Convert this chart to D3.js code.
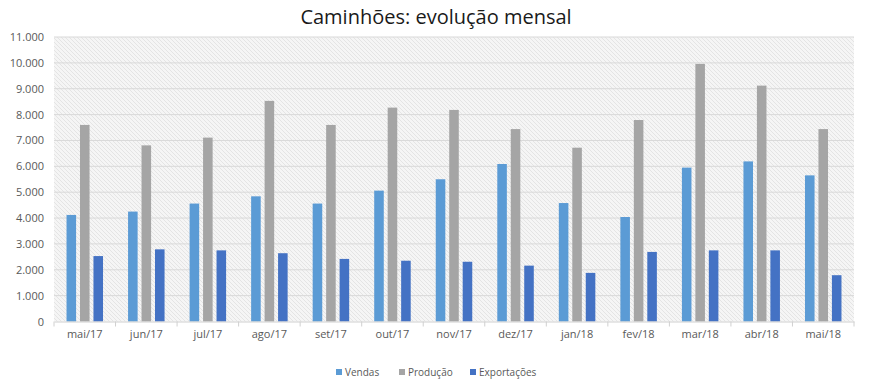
<!DOCTYPE html>
<html>
<head>
<meta charset="utf-8">
<script src="https://cdn.jsdelivr.net/npm/d3@7"></script>
<style>
  body { margin: 0; background: #fff; }
  text { font-family: "Open Sans", "Noto Sans", sans-serif; }
</style>
</head>
<body>
<div id="chart"></div>
<script>
// Caminhões: evolução mensal - grouped bars

var categories = ["mai/17", "jun/17", "jul/17", "ago/17", "set/17", "out/17", "nov/17",
                  "dez/17", "jan/18", "fev/18", "mar/18", "abr/18", "mai/18"];
var vendas = [4120, 4250, 4560, 4840, 4560, 5060, 5500, 6090, 4580, 4040, 5950, 6190, 5650];
var producao = [7600, 6810, 7110, 8530, 7600, 8270, 8180, 7440, 6720, 7790, 9960, 9120, 7440];
var exportacoes = [2530, 2790, 2750, 2640, 2420, 2350, 2310, 2160, 1880, 2690, 2750, 2750, 1790];
var seriesNames = ["Vendas", "Produção", "Exportações"];
var seriesColors = ["#5b9bd5", "#a5a5a5", "#4472c4"];
var yTicks = [0, 1000, 2000, 3000, 4000, 5000, 6000, 7000, 8000, 9000, 10000, 11000];

var param = {
    width: 870,
    height: 380,
    left: 54,
    right: 854,
    top: 37,
    bottom: 321.5
};

var series = [vendas, producao, exportacoes];

var svg = d3.select("#chart").append("svg")
    .attr("width", param.width)
    .attr("height", param.height);

// hatch pattern for plot background
var pat = svg.append("defs").append("pattern")
    .attr("id", "hatch")
    .attr("patternUnits", "userSpaceOnUse")
    .attr("width", 4)
    .attr("height", 4);
pat.append("rect").attr("width", 4).attr("height", 4).attr("fill", "#f5f5f5");
pat.append("path")
    .attr("d", "M-1,-1 L5,5 M-1,3 L1,5 M3,-1 L5,1")
    .attr("stroke", "#e0e0e0")
    .attr("stroke-width", 0.8);

svg.append("rect")
    .attr("x", param.left).attr("y", param.top)
    .attr("width", param.right - param.left)
    .attr("height", param.bottom - param.top)
    .attr("fill", "url(#hatch)");

var x0 = d3.scaleBand().domain(categories).range([param.left, param.right]).padding(0);
var x1 = d3.scaleBand().domain(d3.range(3)).range([0, 36.5]).paddingInner(0.29).paddingOuter(0);
var y = d3.scaleLinear().domain([0, 11000]).range([param.bottom, param.top]);

// grid
svg.append("g").selectAll("line")
    .data(yTicks.slice(1))
    .join("line")
    .attr("x1", param.left).attr("x2", param.right)
    .attr("y1", function(d){ return y(d); })
    .attr("y2", function(d){ return y(d); })
    .attr("stroke", "#d9d9d9").attr("stroke-width", 1);

// y axis labels
var yAxis = d3.axisLeft(y).tickValues(yTicks).tickSize(0).tickPadding(10)
    .tickFormat(function(d){ return d3.format(",")(d).replace(/,/g, "."); });
var gy = svg.append("g").attr("transform", "translate(" + param.left + ",0)").call(yAxis);
gy.select(".domain").remove();
gy.selectAll("text").attr("fill", "#595959").style("font-size", "11px");

// bars
var groups = svg.append("g").selectAll("g")
    .data(categories)
    .join("g")
    .attr("transform", function(d){
        return "translate(" + (x0(d) + (x0.bandwidth() - 36.5) / 2) + ",0)";
    });

groups.selectAll("rect")
    .data(function(d, i){ return series.map(function(s, k){ return {k: k, v: s[i]}; }); })
    .join("rect")
    .attr("x", function(d){ return x1(d.k); })
    .attr("width", x1.bandwidth())
    .attr("y", function(d){ return y(d.v); })
    .attr("height", function(d){ return y(0) - y(d.v); })
    .attr("fill", function(d){ return seriesColors[d.k]; });

// x axis
var xAxis = d3.axisBottom(x0).tickSize(0).tickPadding(9);
var gx = svg.append("g").attr("transform", "translate(0," + param.bottom + ")").call(xAxis);
gx.select(".domain").attr("stroke", "#d0d0d0");
gx.selectAll("text").attr("fill", "#595959").style("font-size", "11px");
gx.selectAll(".sep")
    .data(categories.concat(["end"]))
    .join("line")
    .attr("class", "sep")
    .attr("x1", function(d, i){ return param.left + i * x0.step(); })
    .attr("x2", function(d, i){ return param.left + i * x0.step(); })
    .attr("y1", 0).attr("y2", 5)
    .attr("stroke", "#d0d0d0");

// title
svg.append("text")
    .attr("x", 436).attr("y", 24)
    .attr("text-anchor", "middle")
    .attr("fill", "#1a1a1a")
    .style("font-size", "20px")
    .text("Caminhões: evolução mensal");

// legend
var legendX = [336, 399, 470];
var lg = svg.append("g").selectAll("g")
    .data(seriesNames)
    .join("g")
    .attr("transform", function(d, i){ return "translate(" + legendX[i] + ",370)"; });
lg.append("rect").attr("width", 6).attr("height", 6).attr("y", -1)
    .attr("fill", function(d, i){ return seriesColors[i]; });
lg.append("text").attr("x", 9).attr("y", 6)
    .attr("fill", "#595959")
    .style("font-size", "10px")
    .text(function(d){ return d; });
</script>
</body>
</html>
